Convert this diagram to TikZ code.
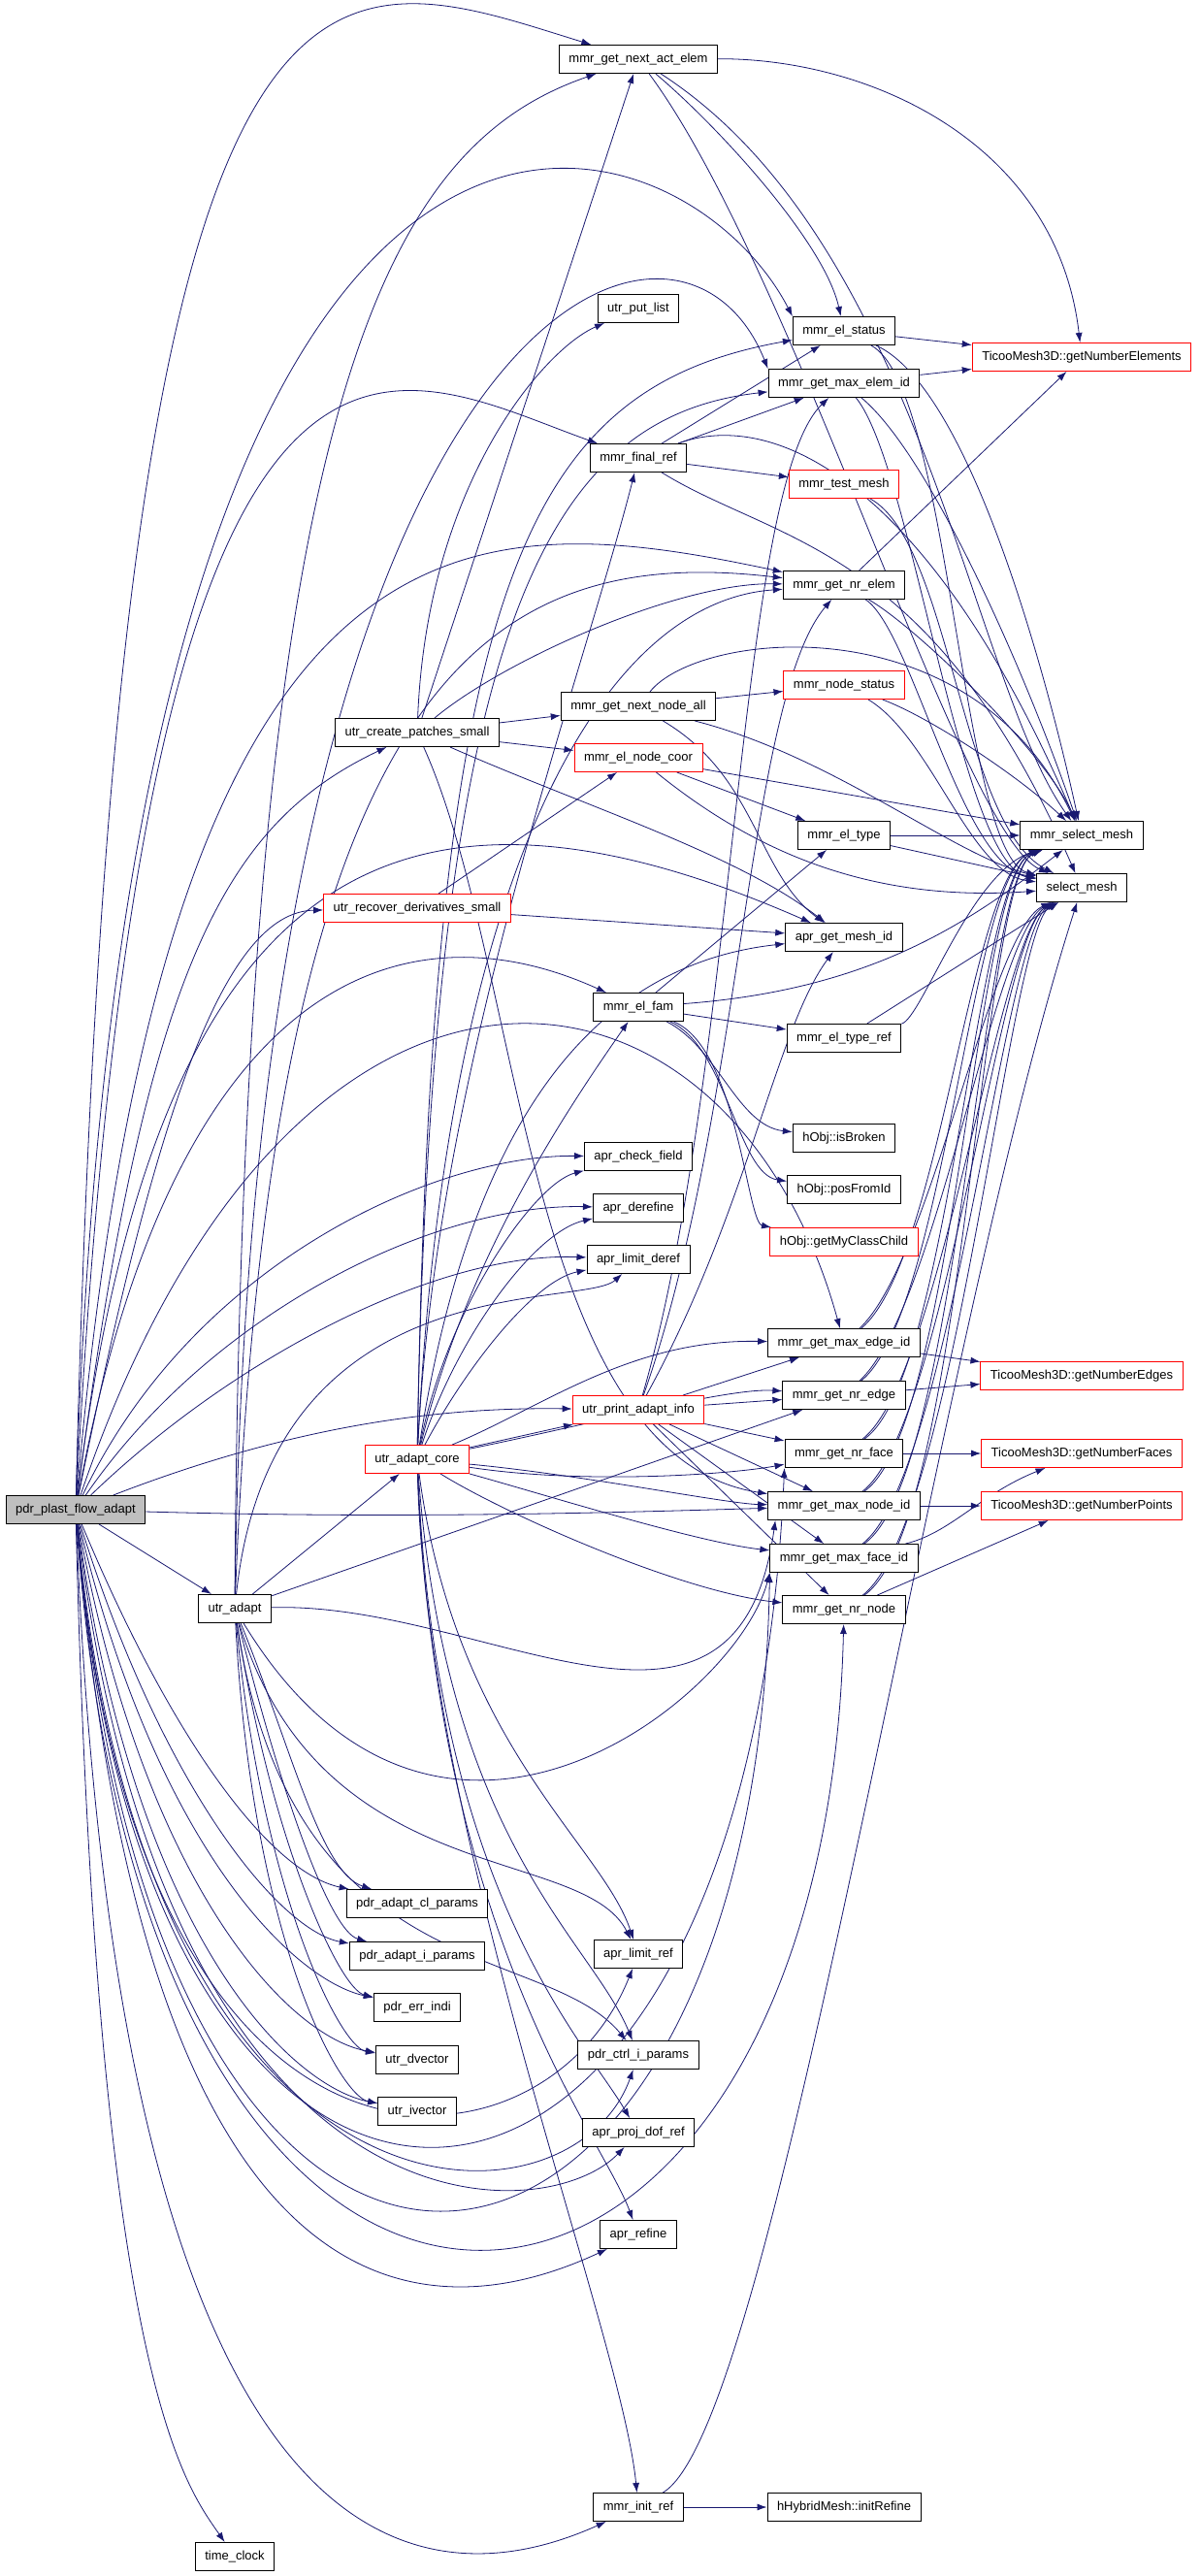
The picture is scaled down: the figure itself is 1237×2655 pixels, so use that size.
\documentclass[tikz,border=0pt]{standalone}
\usepackage{fontspec}
\usepackage{xcolor}
\usepackage{tikz}
\usetikzlibrary{arrows.meta,backgrounds}
\newfontfamily\dxfont{Liberation Sans}
\definecolor{callblue}{RGB}{25,25,112}

\begin{document}
\begin{tikzpicture}[x=1pt,y=-1pt,
	fn/.style={draw=black,line width=1pt,fill=white,minimum height=29pt,inner xsep=10pt,inner ysep=0pt,font=\dxfont\fontsize{13}{15}\selectfont},
	fnred/.style={fn,draw=red},
	fnroot/.style={fn,fill=black!25},
	call/.style={draw=callblue,line width=0.8pt,-{Latex[length=10pt,width=7pt]}}]
	\useasboundingbox (0,0) rectangle (1237,2655);
	% column 1 and 2
	\node[fnroot] (root) at (78,1556) {pdr\_plast\_flow\_adapt};
	\node[fn] (adapt) at (242,1658) {utr\_adapt};
	\node[fn] (clock) at (242,2635) {time\_clock};
	% column 3
	\node[fn] (patches) at (430,755) {utr\_create\_patches\_small};
	\node[fnred] (recover) at (430,936) {utr\_recover\_derivatives\_small};
	\node[fnred] (core) at (430,1504) {utr\_adapt\_core};
	\node[fn] (clpar) at (430,1962) {pdr\_adapt\_cl\_params};
	\node[fn] (ipar) at (430,2016) {pdr\_adapt\_i\_params};
	\node[fn] (errind) at (430,2069) {pdr\_err\_indi};
	\node[fn] (dvec) at (430,2123) {utr\_dvector};
	\node[fn] (ivec) at (430,2176) {utr\_ivector};
	% column 4
	\node[fn] (nextact) at (658,61) {mmr\_get\_next\_act\_elem};
	\node[fn] (putlist) at (658,318) {utr\_put\_list};
	\node[fn] (finalref) at (658,472) {mmr\_final\_ref};
	\node[fn] (nextnode) at (658,728) {mmr\_get\_next\_node\_all};
	\node[fnred] (nodecoor) at (658,781) {mmr\_el\_node\_coor};
	\node[fn] (elfam) at (658,1038) {mmr\_el\_fam};
	\node[fn] (chkfield) at (658,1192) {apr\_check\_field};
	\node[fn] (deref) at (658,1245) {apr\_derefine};
	\node[fn] (limderef) at (658,1298) {apr\_limit\_deref};
	\node[fnred] (printinfo) at (658,1453) {utr\_print\_adapt\_info};
	\node[fn] (limref) at (658,2014) {apr\_limit\_ref};
	\node[fn] (ctrlpar) at (658,2118) {pdr\_ctrl\_i\_params};
	\node[fn] (projdof) at (658,2198) {apr\_proj\_dof\_ref};
	\node[fn] (refine) at (658,2303) {apr\_refine};
	\node[fn] (initref) at (658,2584) {mmr\_init\_ref};
	% column 5
	\node[fn] (elstatus) at (870,341) {mmr\_el\_status};
	\node[fn] (maxelem) at (870,395) {mmr\_get\_max\_elem\_id};
	\node[fnred] (testmesh) at (870,499) {mmr\_test\_mesh};
	\node[fn] (nrelem) at (870,603) {mmr\_get\_nr\_elem};
	\node[fnred] (nodestatus) at (870,706) {mmr\_node\_status};
	\node[fn] (eltype) at (870,861) {mmr\_el\_type};
	\node[fn] (meshid) at (870,966) {apr\_get\_mesh\_id};
	\node[fn] (eltyperef) at (870,1070) {mmr\_el\_type\_ref};
	\node[fn] (broken) at (870,1173) {hObj::isBroken};
	\node[fn] (posid) at (870,1226) {hObj::posFromId};
	\node[fnred] (classchild) at (870,1280) {hObj::getMyClassChild};
	\node[fn] (maxedge) at (870,1384) {mmr\_get\_max\_edge\_id};
	\node[fn] (nredge) at (870,1438) {mmr\_get\_nr\_edge};
	\node[fn] (nrface) at (870,1498) {mmr\_get\_nr\_face};
	\node[fn] (maxnode) at (870,1552) {mmr\_get\_max\_node\_id};
	\node[fn] (maxface) at (870,1606) {mmr\_get\_max\_face\_id};
	\node[fn] (nrnode) at (870,1659) {mmr\_get\_nr\_node};
	\node[fn] (initrefine) at (870,2584) {hHybridMesh::initRefine};
	% column 6
	\node[fnred] (numelem) at (1115,368) {TicooMesh3D::getNumberElements};
	\node[fn] (selmesh) at (1115,861) {mmr\_select\_mesh};
	\node[fn] (select) at (1115,915) {select\_mesh};
	\node[fnred] (numedge) at (1115,1418) {TicooMesh3D::getNumberEdges};
	\node[fnred] (numface) at (1115,1498) {TicooMesh3D::getNumberFaces};
	\node[fnred] (numpoint) at (1115,1552) {TicooMesh3D::getNumberPoints};

	\begin{scope}[on background layer]
	% calls of pdr_plast_flow_adapt
	\draw[call] (root) .. controls (120,-150) and (330,-40) .. (nextact);
	\draw[call] (root) .. controls (130,-100) and (700,100) .. (elstatus.north west);
	\draw[call] (root) .. controls (150,200) and (400,380) .. (finalref);
	\draw[call] (root) .. controls (170,500) and (480,520) .. (nrelem);
	\draw[call] (root) .. controls (150,1000) and (230,850) .. (patches);
	\draw[call] (root) .. controls (160,1150) and (230,940) .. (recover);
	\draw[call] (root) .. controls (160,900) and (400,760) .. (meshid);
	\draw[call] (root) .. controls (180,1000) and (420,930) .. (elfam);
	\draw[call] (root) .. controls (300,900) and (750,950) .. (maxedge);
	\draw[call] (root) .. controls (200,1300) and (450,1190) .. (chkfield);
	\draw[call] (root) .. controls (220,1350) and (450,1240) .. (deref);
	\draw[call] (root) .. controls (240,1400) and (450,1290) .. (limderef);
	\draw[call] (root) .. controls (300,1470) and (450,1450) .. (printinfo);
	\draw[call] (root) .. controls (400,1565) and (600,1560) .. (maxnode);
	\draw[call] (root) -- (adapt);
	\draw[call] (root) .. controls (180,1800) and (280,1930) .. (clpar);
	\draw[call] (root) .. controls (170,1850) and (290,1990) .. (ipar);
	\draw[call] (root) .. controls (160,1900) and (300,2040) .. (errind);
	\draw[call] (root) .. controls (150,1950) and (300,2100) .. (dvec);
	\draw[call] (root) .. controls (140,2000) and (300,2150) .. (ivec);
	\draw[call] (root) .. controls (140,2300) and (560,2260) .. (limref);
	\draw[call] (root) .. controls (150,2330) and (590,2310) .. (ctrlpar);
	\draw[call] (root) .. controls (170,2320) and (560,2300) .. (projdof);
	\draw[call] (root) .. controls (150,2420) and (450,2400) .. (refine);
	\draw[call] (root) .. controls (120,2600) and (400,2700) .. (initref);
	\draw[call] (root) .. controls (100,2450) and (190,2560) .. (clock);
	\draw[call] (root) .. controls (150,2600) and (850,2500) .. (nrnode);
	\draw[call] (root) .. controls (160,2560) and (780,2450) .. (maxface.south west);
	\draw[call] (root) .. controls (150,2450) and (770,2420) .. (nrface.south west);

	% calls of utr_adapt
	\draw[call] (adapt) .. controls (250,400) and (400,150) .. (nextact);
	\draw[call] (adapt) .. controls (260,300) and (700,150) .. (maxelem.north west);
	\draw[call] (adapt) .. controls (280,700) and (500,560) .. (nrelem);
	\draw[call] (adapt) .. controls (280,1300) and (600,1350) .. (limderef);
	\draw[call] (adapt) -- (core);
	\draw[call] (adapt) -- (nredge);
	\draw[call] (adapt) .. controls (500,1650) and (760,1850) .. ([xshift=8pt]maxnode.south west);
	\draw[call] (adapt) .. controls (450,2000) and (760,1750) .. (maxface.south west);
	\draw[call] (adapt) .. controls (300,1800) and (330,1930) .. (clpar);
	\draw[call] (adapt) .. controls (290,1850) and (340,1990) .. (ipar);
	\draw[call] (adapt) .. controls (280,1900) and (350,2050) .. (errind);
	\draw[call] (adapt) .. controls (270,1950) and (350,2110) .. (dvec);
	\draw[call] (adapt) .. controls (260,2000) and (350,2160) .. (ivec);
	\draw[call] (adapt) .. controls (330,1950) and (600,1900) .. (limref);
	\draw[call] (adapt) .. controls (300,2050) and (560,2000) .. (ctrlpar);

	% calls of utr_adapt_core
	\draw[call] (core) -- (printinfo);
	\draw[call] (core) .. controls (560,1450) and (650,1380) .. (maxedge);
	\draw[call] (core) .. controls (600,1470) and (750,1430) .. (nredge);
	\draw[call] (core) .. controls (600,1530) and (750,1520) .. (nrface);
	\draw[call] (core) .. controls (600,1520) and (750,1550) .. (maxnode);
	\draw[call] (core) .. controls (560,1540) and (720,1590) .. (maxface);
	\draw[call] (core) .. controls (520,1560) and (700,1640) .. (nrnode);
	\draw[call] (core) .. controls (445,600) and (540,400) .. (elstatus);
	\draw[call] (core) .. controls (445,650) and (560,430) .. (maxelem);
	\draw[call] (core) .. controls (450,1100) and (600,700) .. (finalref);
	\draw[call] (core) .. controls (460,900) and (620,620) .. (nrelem);
	\draw[call] (core) .. controls (470,1250) and (560,1000) .. (meshid);
	\draw[call] (core) .. controls (480,1300) and (580,1150) .. (elfam);
	\draw[call] (core) .. controls (460,1350) and (550,1220) .. (chkfield);
	\draw[call] (core) .. controls (470,1380) and (550,1270) .. (deref);
	\draw[call] (core) .. controls (480,1410) and (550,1320) .. (limderef);
	\draw[call] (core) .. controls (470,1800) and (620,1900) .. (limref);
	\draw[call] (core) .. controls (460,1900) and (610,2000) .. (ctrlpar);
	\draw[call] (core) .. controls (450,1950) and (600,2100) .. (projdof);
	\draw[call] (core) .. controls (450,2000) and (620,2200) .. (refine);
	\draw[call] (core) .. controls (440,1900) and (640,2400) .. (initref);

	% calls of utr_print_adapt_info
	\draw[call] (printinfo) .. controls (760,1100) and (760,500) .. (maxelem);
	\draw[call] (printinfo) .. controls (765,1150) and (770,720) .. (nrelem);
	\draw[call] (printinfo) .. controls (770,1250) and (800,1060) .. (meshid);
	\draw[call] (printinfo) -- (maxedge);
	\draw[call] (printinfo) -- (nredge);
	\draw[call] (printinfo) -- (nrface);
	\draw[call] (printinfo) -- (maxnode);
	\draw[call] (printinfo) -- (maxface);
	\draw[call] (printinfo) -- (nrnode);

	% calls of the patch and recovery routines
	\draw[call] (patches) -- (nextact);
	\draw[call] (patches) .. controls (440,500) and (560,360) .. (putlist);
	\draw[call] (patches) -- (nextnode);
	\draw[call] (patches) -- (nodecoor);
	\draw[call] (patches) .. controls (520,680) and (700,600) .. (nrelem);
	\draw[call] (patches) .. controls (600,830) and (760,880) .. (meshid);
	\draw[call] (patches) .. controls (540,1000) and (540,1500) .. (maxnode);
	\draw[call] (recover) -- (nodecoor);
	\draw[call] (recover) -- (meshid);

	% calls of the mesh module
	\draw[call] (nextact) .. controls (900,60) and (1090,150) .. (numelem);
	\draw[call] (nextact) .. controls (740,130) and (850,250) .. (elstatus);
	\draw[call] (nextact) .. controls (950,250) and (1000,700) .. (selmesh);
	\draw[call] (nextact) .. controls (820,280) and (990,860) .. (select);
	\draw[call] (finalref) -- (elstatus);
	\draw[call] (finalref) -- (maxelem);
	\draw[call] (finalref) -- (testmesh);
	\draw[call] (finalref) .. controls (800,420) and (960,500) .. (selmesh);
	\draw[call] (finalref) .. controls (800,560) and (960,560) .. (select);
	\draw[call] (nextnode) -- (nodestatus);
	\draw[call] (nextnode) .. controls (720,650) and (1000,620) .. (selmesh);
	\draw[call] (nextnode) .. controls (860,780) and (980,880) .. (select);
	\draw[call] (nextnode) .. controls (780,800) and (780,900) .. (meshid);
	\draw[call] (nodecoor) -- (eltype);
	\draw[call] (nodecoor) -- (selmesh);
	\draw[call] (nodecoor) .. controls (780,880) and (900,930) .. (select);
	\draw[call] (elfam) -- (eltype);
	\draw[call] (elfam) .. controls (900,1020) and (1000,950) .. (selmesh);
	\draw[call] (elfam) -- (eltyperef);
	\draw[call] (elfam) .. controls (740,1080) and (760,1160) .. (broken);
	\draw[call] (elfam) .. controls (750,1080) and (760,1210) .. (posid);
	\draw[call] (elfam) .. controls (760,1080) and (770,1260) .. (classchild);
	\draw[call] (initref) -- (initrefine);
	\draw[call] (initref) .. controls (800,2500) and (960,1400) .. (select);

	\draw[call] (elstatus) -- (numelem);
	\draw[call] (elstatus) .. controls (1000,400) and (1080,700) .. (selmesh);
	\draw[call] (elstatus) .. controls (980,400) and (990,880) .. (select);
	\draw[call] (maxelem) -- (numelem);
	\draw[call] (maxelem) .. controls (960,470) and (1060,700) .. (selmesh);
	\draw[call] (maxelem) .. controls (940,480) and (990,890) .. (select);
	\draw[call] (testmesh) .. controls (980,560) and (990,850) .. (select);
	\draw[call] (nrelem) -- (numelem);
	\draw[call] (nrelem) .. controls (950,650) and (1080,780) .. (selmesh);
	\draw[call] (nrelem) .. controls (940,650) and (990,890) .. (select);
	\draw[call] (nodestatus) .. controls (960,740) and (1050,800) .. (selmesh);
	\draw[call] (nodestatus) .. controls (960,760) and (1000,900) .. (select);
	\draw[call] (eltype) -- (selmesh);
	\draw[call] (eltype) -- (select);
	\draw[call] (eltyperef) .. controls (950,1050) and (1000,900) .. (selmesh);
	\draw[call] (eltyperef) -- (select);

	\draw[call] (maxedge) -- (numedge);
	\draw[call] (maxedge) .. controls (970,1300) and (1000,900) .. (selmesh);
	\draw[call] (maxedge) .. controls (960,1300) and (1020,960) .. (select);
	\draw[call] (nredge) -- (numedge);
	\draw[call] (nredge) .. controls (975,1350) and (1000,900) .. (selmesh);
	\draw[call] (nredge) .. controls (965,1350) and (1025,960) .. (select);
	\draw[call] (nrface) -- (numface);
	\draw[call] (nrface) .. controls (980,1420) and (1005,900) .. (selmesh);
	\draw[call] (nrface) .. controls (970,1420) and (1030,960) .. (select);
	\draw[call] (maxnode) -- (numpoint);
	\draw[call] (maxnode) .. controls (985,1470) and (1005,900) .. (selmesh);
	\draw[call] (maxnode) .. controls (975,1470) and (1030,960) .. (select);
	\draw[call] (maxface) .. controls (980,1580) and (1010,1540) .. (numface);
	\draw[call] (maxface) .. controls (990,1520) and (1010,900) .. (selmesh);
	\draw[call] (maxface) .. controls (980,1520) and (1035,960) .. (select);
	\draw[call] (nrnode) -- (numpoint);
	\draw[call] (nrnode) .. controls (995,1570) and (1010,900) .. (selmesh);
	\draw[call] (nrnode) .. controls (985,1570) and (1040,960) .. (select);
	\end{scope}
\end{tikzpicture}
\end{document}
